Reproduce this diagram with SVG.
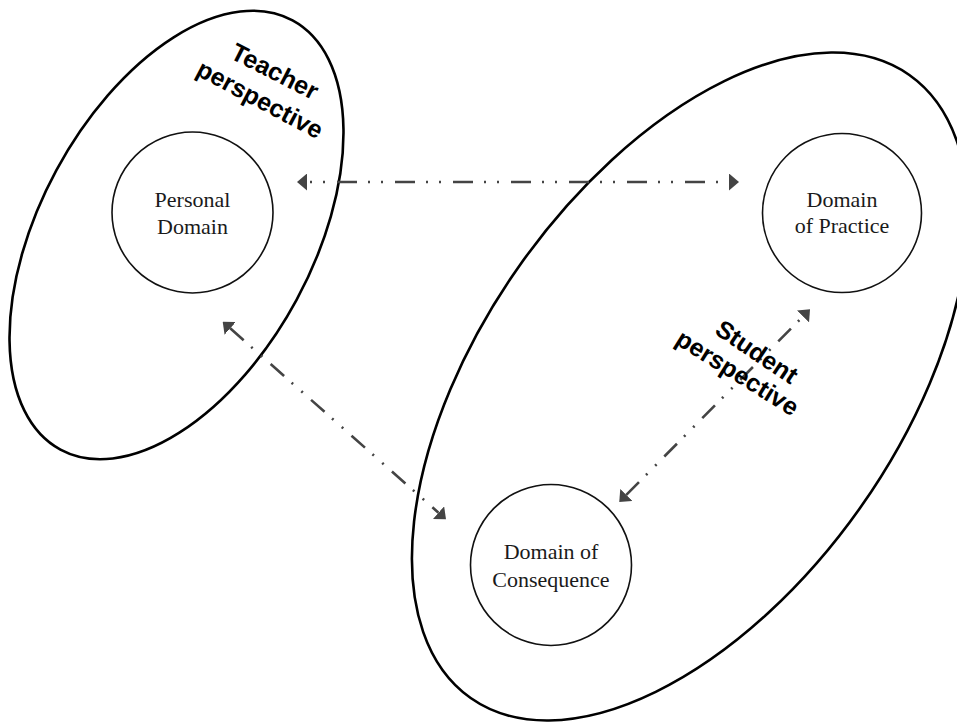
<svg xmlns="http://www.w3.org/2000/svg" width="957" height="722" viewBox="0 0 957 722">
  <style>
    .zone { fill: none; stroke: #000; stroke-width: 2.6; }
    .domain { fill: none; stroke: #111; stroke-width: 1.6; }
    .label { font-family: "Liberation Serif", "Times New Roman", serif; font-size: 22px; fill: #1a1a1a; text-anchor: middle; }
    .persp { font-family: "Liberation Sans", Arial, sans-serif; font-weight: bold; fill: #000; text-anchor: middle; }
    .link { fill: none; stroke: #444; stroke-width: 2.6; }
    .h { stroke-dasharray: 20 11 2 11 2 12; stroke-dashoffset: 28; }
    .d { stroke-dasharray: 18 10 2 11 2 11; }
  </style>
  <defs>
    <marker id="head" viewBox="0 0 10 17" refX="0" refY="8.5" markerWidth="10" markerHeight="17" markerUnits="userSpaceOnUse" orient="auto-start-reverse">
      <path d="M0,0 L10,8.5 L0,17 Z" fill="#444"/>
    </marker>
  </defs>

  <!-- perspective zones -->
  <g id="teacher-perspective">
    <ellipse class="zone" cx="176.5" cy="235" rx="244" ry="136.5" transform="rotate(-61.6 176.5 235)"/>
    <text class="persp" font-size="25" transform="translate(271 79) rotate(27)">Teacher</text>
    <text class="persp" font-size="25" transform="translate(256 107) rotate(28)">perspective</text>
  </g>
  <g id="student-perspective">
    <ellipse class="zone" cx="690" cy="386.5" rx="381" ry="209" transform="rotate(-54.85 690 386.5)"/>
  </g>

  <!-- domains -->
  <g id="personal-domain">
    <circle class="domain" cx="192.5" cy="212.5" r="80.5"/>
    <text class="label" x="192.5" y="207">Personal</text>
    <text class="label" x="192.5" y="234">Domain</text>
  </g>
  <g id="domain-of-practice">
    <circle class="domain" cx="842" cy="213" r="79.5"/>
    <text class="label" x="842" y="207">Domain</text>
    <text class="label" x="842" y="233">of Practice</text>
  </g>
  <g id="domain-of-consequence">
    <circle class="domain" cx="551" cy="565" r="80.5"/>
    <text class="label" x="551" y="559">Domain of</text>
    <text class="label" x="551" y="587">Consequence</text>
  </g>

  <!-- connectors -->
  <g id="connectors">
    <line class="link h" x1="307" y1="182" x2="729" y2="182" marker-start="url(#head)" marker-end="url(#head)"/>
    <line class="link d" x1="230.2" y1="328.3" x2="438.5" y2="512.7" marker-start="url(#head)" marker-end="url(#head)"/>
    <line class="link d" x1="626.3" y1="494.9" x2="803" y2="316.4" marker-start="url(#head)" marker-end="url(#head)"/>
  </g>

  <!-- student label sits over the connector -->
  <g id="student-label">
    <text class="persp" font-size="25" transform="translate(752 359) rotate(34)">Student</text>
    <text class="persp" font-size="25" transform="translate(733 380) rotate(32)">perspective</text>
  </g>
</svg>
